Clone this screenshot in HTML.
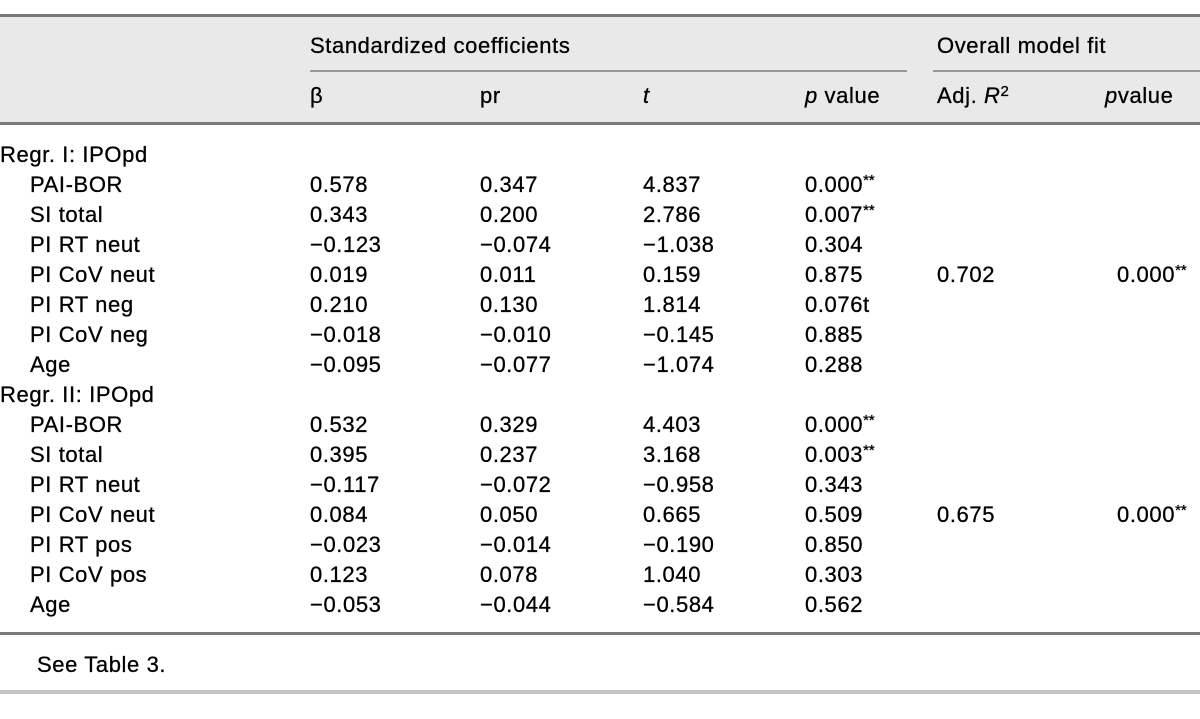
<!DOCTYPE html>
<html><head><meta charset="utf-8"><style>
body{margin:0;width:1200px;height:719px;background:#fff;position:relative;overflow:hidden;font-family:"Liberation Sans",sans-serif;font-size:22px;letter-spacing:0.6px;color:#000;-webkit-text-stroke:0.3px #000}
.hd{position:absolute;left:0;top:16px;width:1200px;height:107px;background:#e9e9e9}
.ln{position:absolute;height:2px;background:#7a7a7a}
.t{position:absolute;white-space:nowrap;line-height:24px;transform:translateY(-12px)}
sup{font-size:15px;vertical-align:7px;line-height:0;letter-spacing:0}
</style></head><body>
<div class="hd"></div>
<div class="ln" style="left:0;top:14px;width:1200px;height:3px"></div>
<div class="ln" style="left:310px;top:70px;width:597px;background:#999"></div>
<div class="ln" style="left:933px;top:70px;width:267px;background:#999"></div>
<div class="ln" style="left:0;top:122px;width:1200px;height:3px"></div>
<div class="ln" style="left:0;top:632px;width:1200px;height:3px"></div>
<div class="ln" style="left:0;top:690px;width:1200px;height:4px;background:#c4c4c4"></div>

<div class="t" style="left:310px;top:46px">Standardized coefficients</div>
<div class="t" style="left:937px;top:46px">Overall model fit</div>
<div class="t" style="left:310px;top:96px">β</div>
<div class="t" style="left:480px;top:96px">pr</div>
<div class="t" style="left:643px;top:96px"><i>t</i></div>
<div class="t" style="left:805px;top:96px"><i>p</i> value</div>
<div class="t" style="left:937px;top:96px">Adj. <i>R</i><sup>2</sup></div>
<div class="t" style="left:1105px;top:96px"><i>p</i>value</div>

<div id="rows"></div>
<div class="t" style="left:937px;top:275px">0.702</div>
<div class="t" style="left:1117px;top:275px">0.000<sup>**</sup></div>
<div class="t" style="left:937px;top:515px">0.675</div>
<div class="t" style="left:1117px;top:515px">0.000<sup>**</sup></div>
<div class="t" style="left:37px;top:665px">See Table 3.</div>
<script>
var R=[["Regr. I: IPOpd"],["PAI-BOR","0.578","0.347","4.837","0.000**"],["SI total","0.343","0.200","2.786","0.007**"],["PI RT neut","−0.123","−0.074","−1.038","0.304"],["PI CoV neut","0.019","0.011","0.159","0.875"],["PI RT neg","0.210","0.130","1.814","0.076t"],["PI CoV neg","−0.018","−0.010","−0.145","0.885"],["Age","−0.095","−0.077","−1.074","0.288"],
["Regr. II: IPOpd"],["PAI-BOR","0.532","0.329","4.403","0.000**"],["SI total","0.395","0.237","3.168","0.003**"],["PI RT neut","−0.117","−0.072","−0.958","0.343"],["PI CoV neut","0.084","0.050","0.665","0.509"],["PI RT pos","−0.023","−0.014","−0.190","0.850"],["PI CoV pos","0.123","0.078","1.040","0.303"],["Age","−0.053","−0.044","−0.584","0.562"]];
var h="",X=[310,480,643,805];
R.forEach(function(r,i){var y=155+i*30;
h+='<div class="t" style="left:'+(r.length==1?0:30)+'px;top:'+y+'px">'+r[0]+'</div>';
for(var j=1;j<r.length;j++){var v=r[j].replace("**","<sup>**</sup>");h+='<div class="t" style="left:'+X[j-1]+'px;top:'+y+'px">'+v+'</div>';}});
document.getElementById("rows").innerHTML=h;
</script>
</body></html>
